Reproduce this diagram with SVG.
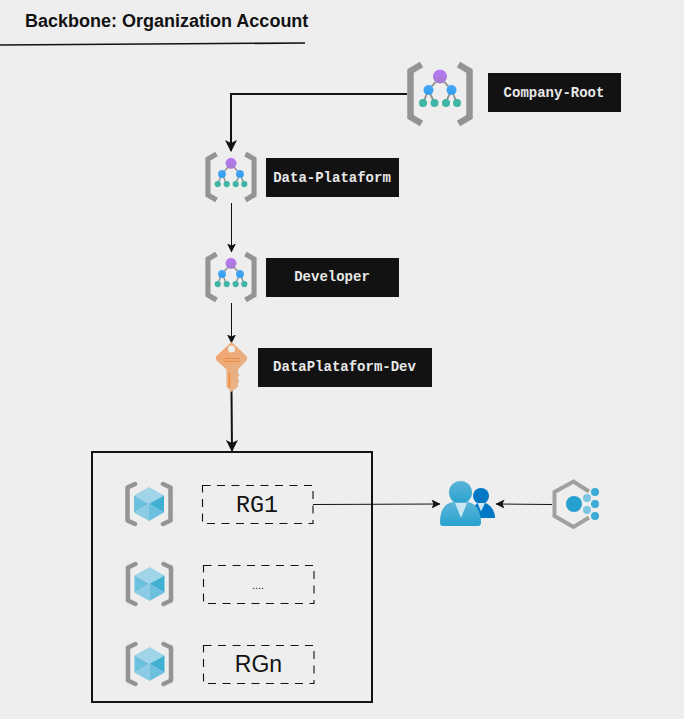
<svg xmlns="http://www.w3.org/2000/svg" width="684" height="719" viewBox="0 0 684 719">
<style>
.lbl{fill:#121212}
.lt{font-family:"Liberation Mono",monospace;font-weight:700;font-size:14px;fill:#e8e8e8;text-anchor:middle}
.rg{fill:none;stroke:#121212;stroke-width:1.1;stroke-dasharray:8 6.500}
.c{fill:none;stroke:#121212}
.br{fill:none;stroke:#949494}
</style>
<defs>
<linearGradient id="pur" x1="0" y1="0" x2="0" y2="1"><stop offset="0" stop-color="#b77af4"/><stop offset="1" stop-color="#a67ad0"/></linearGradient>
<linearGradient id="blu" x1="0" y1="0" x2="0" y2="1"><stop offset="0" stop-color="#4aa8f5"/><stop offset="1" stop-color="#2f9df0"/></linearGradient>
<linearGradient id="key" x1="0" y1="0" x2="1" y2="1"><stop offset="0" stop-color="#f2a36d"/><stop offset="1" stop-color="#e3b68e"/></linearGradient>
<linearGradient id="usr" x1="0" y1="0" x2="0" y2="1"><stop offset="0" stop-color="#5bb4d8"/><stop offset="1" stop-color="#27a2cf"/></linearGradient>
<marker id="big" markerWidth="14" markerHeight="14" refX="11" refY="6" orient="auto" markerUnits="userSpaceOnUse"><path d="M0 0L12 6L0 12L3 6Z" fill="#121212"/></marker>
<marker id="small" markerWidth="10" markerHeight="10" refX="8.500" refY="4.500" orient="auto" markerUnits="userSpaceOnUse"><path d="M0 0L9 4.500L0 9L2 4.500Z" fill="#121212"/></marker>
<symbol id="org" viewBox="0 0 66 64" overflow="visible">
<path d="M14.500 2.500L3.500 9V55L14.500 61.500" class="br" stroke-width="6.500"/>
<path d="M51.500 2.500L62.500 9V55L51.500 61.500" class="br" stroke-width="6.500"/>
<path d="M33 15L21.500 28L16 41M21.500 28L27.500 41M33 15L44.500 28L38.500 41M44.500 28L50 41" fill="none" stroke="#8f8f8f" stroke-width="1.800"/>
<circle cx="33" cy="14.500" r="7" fill="url(#pur)"/>
<circle cx="21.500" cy="28" r="5" fill="url(#blu)"/>
<circle cx="44.500" cy="28" r="5" fill="url(#blu)"/>
<g fill="#41b6a6"><circle cx="16" cy="41" r="4"/><circle cx="27.500" cy="41" r="4"/><circle cx="39" cy="41" r="4"/><circle cx="50" cy="41" r="4"/></g>
</symbol>
<symbol id="rgi" viewBox="0 0 48 46" overflow="visible">
<path d="M10 3L2.500 6.500V39.500L10 43" class="br" stroke-width="4.500" stroke-linecap="round" stroke-linejoin="round"/>
<path d="M38 3L45.500 6.500V39.500L38 43" class="br" stroke-width="4.500" stroke-linecap="round" stroke-linejoin="round"/>
<path d="M24 6L39 14.500L24 23L9 14.500Z" fill="#a0d4e8"/>
<path d="M9 14.500L24 23L9 31.500Z" fill="#6dbfde"/>
<path d="M39 14.500V31.500L24 23Z" fill="#3fafd2"/>
<path d="M9 31.500L24 23V40Z" fill="#8bcbe4"/>
<path d="M39 31.500L24 23V40Z" fill="#6dbfde"/>
</symbol>
</defs>
<rect width="684" height="719" fill="#eeeeee"/>
<g id="title">
<text x="25" y="27" font-family="'Liberation Sans',Arial,sans-serif" font-weight="700" font-size="18" fill="#121212">Backbone: Organization Account</text>
<path d="M0 45L305 43" fill="none" stroke="#121212" stroke-width="1.600"/>
</g>
<g id="connectors">
<path class="c" stroke-width="2" d="M407 94H231V151" marker-end="url(#big)"/>
<path class="c" stroke-width="1" d="M231.500 203V252" marker-end="url(#small)"/>
<path class="c" stroke-width="1" d="M231.500 303V343" marker-end="url(#small)"/>
<path class="c" stroke-width="2" d="M231.500 391L232 451" marker-end="url(#big)"/>
<path class="c" stroke-width="1" d="M313 504.500L440 504" marker-end="url(#small)"/>
<path class="c" stroke-width="1" d="M552 504.500L496 504" marker-end="url(#small)"/>
</g>
<g id="company-root">
<use href="#org" x="407" y="62" width="66" height="64"/>
<rect class="lbl" x="488" y="73" width="133" height="39"/>
<text class="lt" x="554" y="97">Company-Root</text>
</g>
<g id="data-plataforma">
<use href="#org" x="205" y="152" width="52" height="50"/>
<rect class="lbl" x="266" y="158" width="133" height="39"/>
<text class="lt" x="332" y="182">Data-Plataform</text>
</g>
<g id="developer">
<use href="#org" x="205" y="252" width="52" height="50"/>
<rect class="lbl" x="266" y="258" width="133" height="39"/>
<text class="lt" x="332" y="281">Developer</text>
</g>
<g id="dataplataform-dev">
<path d="M231.500 342L247 356.500V360L238 369.500V373L239.500 375L237.500 378L239.500 381L237.500 384L238.500 386L231.500 392L226.500 387V369.500L216 360V356.500Z" fill="url(#key)"/>
<circle cx="231.500" cy="349" r="3.500" fill="#eeeeee"/>
<path d="M223.500 358.500H240M223.500 361.500H240" stroke="#f08a3c" stroke-width="1" fill="none"/>
<path d="M229.500 373V387" stroke="#f08a3c" stroke-width="1.500" fill="none"/>
<rect class="lbl" x="258" y="348" width="174" height="39"/>
<text class="lt" x="344.500" y="371">DataPlataform-Dev</text>
</g>
<g id="resource-group-box"><rect x="92" y="452" width="280" height="250" fill="none" stroke="#121212" stroke-width="2"/></g>
<g id="rg1">
<use href="#rgi" x="125" y="481" width="48" height="46"/>
<rect class="rg" x="202.500" y="485.500" width="110.500" height="38"/>
<text x="257" y="512" font-family="'Liberation Mono',monospace" font-size="23.300" fill="#121212" text-anchor="middle">RG1</text>
</g>
<g id="rg-dots">
<use href="#rgi" x="125.500" y="561" width="48" height="46"/>
<rect class="rg" x="203.500" y="565.500" width="110.500" height="38"/>
<text x="258" y="589" font-family="'Liberation Sans',Arial,sans-serif" font-size="11" fill="#121212" text-anchor="middle">....</text>
</g>
<g id="rgn">
<use href="#rgi" x="125.500" y="641" width="48" height="46"/>
<rect class="rg" x="203.500" y="645.500" width="110.500" height="38"/>
<text x="258.500" y="672" font-family="'Liberation Sans',Arial,sans-serif" font-size="23" fill="#121212" text-anchor="middle">RGn</text>
</g>
<g id="users">
<circle cx="481" cy="496" r="8" fill="#0078c4"/>
<path d="M472 518C472 506 477 502 481 502C487 502 495 508 495 518Z" fill="#0078c4"/>
<path d="M477.500 503H485L481 511.500Z" fill="#c9e6f2"/>
<circle cx="460.500" cy="492.500" r="11.500" fill="url(#usr)"/>
<path d="M440 522C440 510 445 502 455 502H466C476 502 481 512 481 522C481 525 480 526 478 526H443C441 526 440 525 440 522Z" fill="url(#usr)"/>
<path d="M455 503H467L461 518Z" fill="#c9e6f2"/>
</g>
<g id="identity-service">
<path d="M589 491.500L573.500 481.500L554.500 492V516L573.500 527L589 517.500" fill="none" stroke="#a0a0a0" stroke-width="4"/>
<circle cx="574" cy="504" r="8" fill="#25a0d0"/>
<circle cx="587" cy="498" r="4" fill="#7cc6e3"/>
<circle cx="587" cy="510" r="4" fill="#7cc6e3"/>
<circle cx="595" cy="492" r="4" fill="#3cacd6"/>
<circle cx="595" cy="504" r="4" fill="#3cacd6"/>
<circle cx="595" cy="516" r="4" fill="#3cacd6"/>
</g>
</svg>
